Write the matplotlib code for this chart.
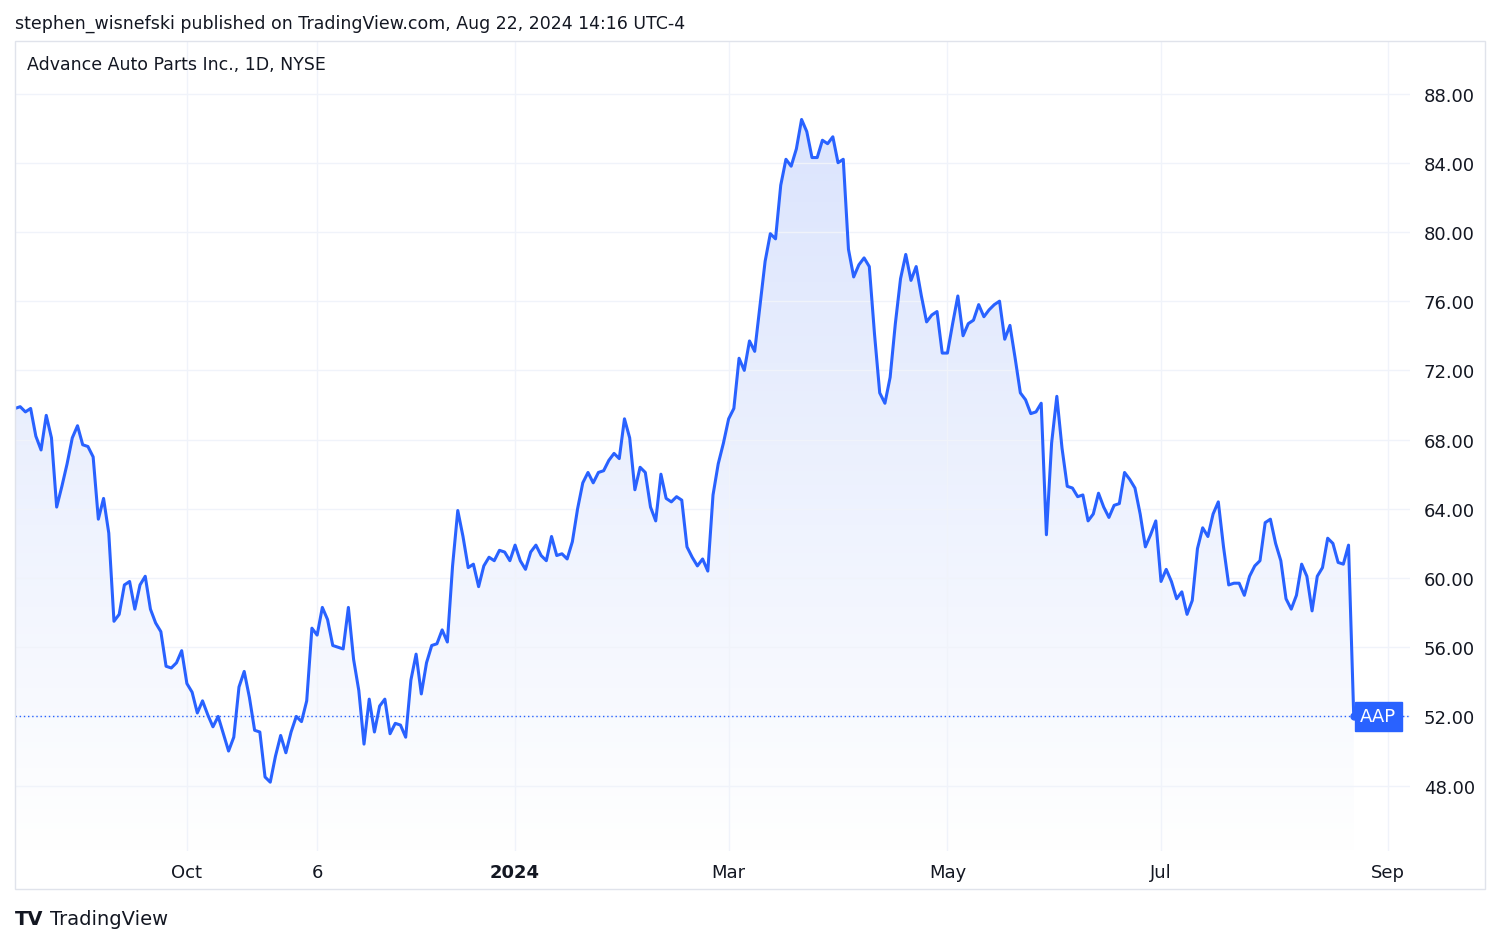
import numpy as np
import matplotlib.pyplot as plt
from matplotlib.patches import Polygon, Rectangle

# daily closes (one per trading day)
prices = [69.8, 69.9, 69.6, 69.8, 68.2, 67.4, 69.4, 68.1, 64.1, 65.3, 66.6, 68.1, 68.8, 67.7, 67.6, 67.0,
          63.4, 64.6, 62.6, 57.5, 57.9, 59.6, 59.8, 58.2, 59.6, 60.1, 58.2, 57.4, 56.9, 54.9, 54.8, 55.1,
          55.8, 53.9, 53.4, 52.2, 52.9, 52.1, 51.4, 52.0, 51.0, 50.0, 50.8, 53.7, 54.6, 53.1, 51.2, 51.1,
          48.5, 48.2, 49.7, 50.9, 49.9, 51.1, 52.0, 51.7, 52.9, 57.1, 56.7, 58.3, 57.6, 56.1, 56.0, 55.9,
          58.3, 55.3, 53.5, 50.4, 53.0, 51.1, 52.6, 53.0, 51.0, 51.6, 51.5, 50.8, 54.1, 55.6, 53.3, 55.1,
          56.1, 56.2, 57.0, 56.3, 60.7, 63.9, 62.4, 60.6, 60.8, 59.5, 60.7, 61.2, 61.0, 61.6, 61.5, 61.0,
          61.9, 61.0, 60.5, 61.5, 61.9, 61.3, 61.0, 62.4, 61.3, 61.4, 61.1, 62.1, 64.0, 65.5, 66.1, 65.5,
          66.1, 66.2, 66.8, 67.2, 66.9, 69.2, 68.1, 65.1, 66.4, 66.1, 64.1, 63.3, 66.0, 64.6, 64.4, 64.7,
          64.5, 61.8, 61.2, 60.7, 61.1, 60.4, 64.8, 66.6, 67.8, 69.2, 69.8, 72.7, 72.0, 73.7, 73.1, 75.7,
          78.3, 79.9, 79.6, 82.7, 84.2, 83.8, 84.8, 86.5, 85.8, 84.3, 84.3, 85.3, 85.1, 85.5, 84.0, 84.2,
          79.0, 77.4, 78.1, 78.5, 78.0, 74.1, 70.7, 70.1, 71.6, 74.7, 77.3, 78.7, 77.2, 78.0, 76.3, 74.8,
          75.2, 75.4, 73.0, 73.0, 74.7, 76.3, 74.0, 74.7, 74.9, 75.8, 75.1, 75.5, 75.8, 76.0, 73.8, 74.6,
          72.7, 70.7, 70.3, 69.5, 69.6, 70.1, 62.5, 67.8, 70.5, 67.5, 65.3, 65.2, 64.7, 64.8, 63.3, 63.7,
          64.9, 64.1, 63.5, 64.2, 64.3, 66.1, 65.7, 65.2, 63.7, 61.8, 62.5, 63.3, 59.8, 60.5, 59.8, 58.8,
          59.2, 57.9, 58.7, 61.7, 62.9, 62.4, 63.7, 64.4, 61.8, 59.6, 59.7, 59.7, 59.0, 60.1, 60.7, 61.0,
          63.2, 63.4, 62.0, 61.0, 58.8, 58.2, 59.0, 60.8, 60.1, 58.1, 60.1, 60.6, 62.3, 62.0, 60.9, 60.8,
          61.9, 52.0]
tick_pos = [33, 58, 96, 137, 179, 220, 263.5]
tick_labels = ['Oct', '6', '2024', 'Mar', 'May', 'Jul', 'Sep']
y_ticks = [48, 52, 56, 60, 64, 68, 72, 76, 80, 84, 88]

blue = '#2962FF'
x = np.arange(len(prices))
y = np.array(prices)
ylo, yhi = 44.2, 91.06

fig = plt.figure(figsize=(15, 9.45), dpi=100)
ax = fig.add_axes([0.01, 0.098, 0.93, 0.858])
ax.set_xlim(0, 267.8)
ax.set_ylim(ylo, yhi)

# gradient fill under the line
grad = np.linspace(0, 1, 256).reshape(-1, 1)
cmap = plt.matplotlib.colors.LinearSegmentedColormap.from_list('g', ['#ffffff', '#dbe4fd'])
im = ax.imshow(grad, cmap=cmap, aspect='auto', origin='lower',
               extent=[0, len(prices) - 1, ylo, y.max()], zorder=1)
poly = Polygon(np.column_stack([np.r_[x, x[-1], 0], np.r_[y, ylo, ylo]]),
               closed=True, transform=ax.transData, facecolor='none', edgecolor='none')
ax.add_patch(poly)
im.set_clip_path(poly)

ax.plot(x, y, color=blue, lw=2.2, zorder=3)
ax.axhline(y[-1], color=blue, lw=1, ls=(0, (1, 2)), zorder=2)
ax.plot(x[-1], y[-1], 'o', color=blue, ms=5, zorder=4)
ax.text(x[-1] + 1.2, y[-1], 'AAP', color='white', fontsize=13, va='center', ha='left', zorder=5,
        bbox=dict(boxstyle='square,pad=0.3', facecolor=blue, edgecolor=blue))

ax.set_xticks(tick_pos)
ax.set_xticklabels(tick_labels, fontsize=13, color='#131722')
ax.get_xticklabels()[2].set_fontweight('bold')
ax.set_yticks(y_ticks)
ax.set_yticklabels([f'{v:.2f}' for v in y_ticks], fontsize=13, color='#131722')
ax.yaxis.tick_right()
ax.tick_params(axis='y', length=0, pad=10)
ax.tick_params(axis='x', length=0, pad=8)
ax.grid(True, color='#f0f3fa', lw=1)
for s in ax.spines.values():
    s.set_visible(False)

# outer frame
fig.patches.append(Rectangle((0.01, 0.058), 0.98, 0.898, transform=fig.transFigure,
                             fill=False, edgecolor='#e0e3eb', lw=1))
fig.text(0.018, 0.931, 'Advance Auto Parts Inc., 1D, NYSE',
         fontsize=12.5, color='#131722', va='center')
fig.text(0.01, 0.975, 'stephen_wisnefski published on TradingView.com, Aug 22, 2024 14:16 UTC-4',
         fontsize=12.5, color='#131722', va='center')
fig.text(0.01, 0.027, 'TV', fontsize=14, fontweight='bold', color='#131722', va='center')
fig.text(0.033, 0.027, 'TradingView', fontsize=14, color='#131722', va='center')

fig.savefig('out.png', dpi=100)
